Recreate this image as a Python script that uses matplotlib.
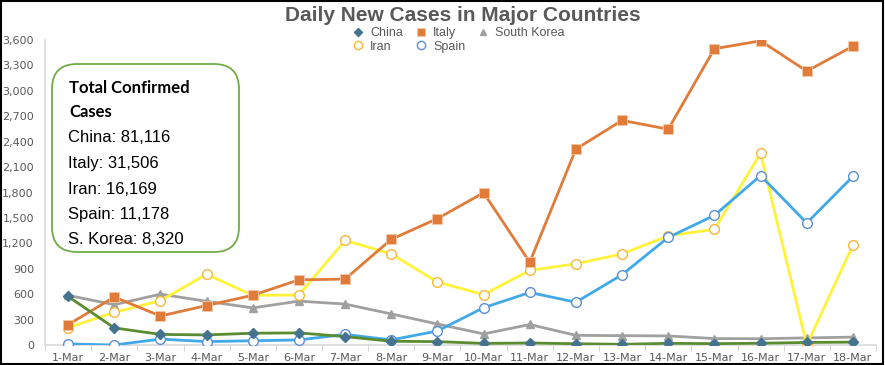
import numpy as np
import matplotlib.pyplot as plt
from matplotlib.patches import FancyBboxPatch
from matplotlib.lines import Line2D

days = ['1-Mar', '2-Mar', '3-Mar', '4-Mar', '5-Mar', '6-Mar', '7-Mar', '8-Mar', '9-Mar',
        '10-Mar', '11-Mar', '12-Mar', '13-Mar', '14-Mar', '15-Mar', '16-Mar', '17-Mar', '18-Mar']

china = [573, 202, 125, 119, 139, 143, 99, 44, 40, 19, 24, 15, 8, 20, 16, 21, 30, 34]
italy = [240, 566, 342, 466, 587, 769, 778, 1247, 1492, 1797, 977, 2313, 2651, 2547, 3497, 3590, 3233, 3526]
korea = [586, 476, 600, 516, 438, 518, 483, 367, 248, 131, 242, 114, 110, 107, 76, 74, 84, 93]
iran = [205, 385, 523, 835, 586, 591, 1234, 1076, 743, 595, 881, 958, 1075, 1289, 1365, 2262, 0, 1178]
spain = [13, 0, 70, 40, 50, 60, 125, 60, 165, 440, 620, 505, 830, 1270, 1530, 2000, 1440, 1990]

totals_title = ['Total Confirmed', 'Cases']
totals = ['China: 81,116', 'Italy: 31,506', 'Iran: 16,169', 'Spain: 11,178', 'S. Korea: 8,320']

fig = plt.figure(figsize=(8.85, 3.65), dpi=100)
ax = fig.add_axes([45/885, 20/365, 831/885, 305/365])
x = np.arange(len(days))

styles = {
    'China': dict(color='#5b8c32', marker='D', ms=5, mfc='#44728f', mec='#44728f', mew=1, z=6),
    'Italy': dict(color='#e07b39', marker='s', ms=7, mfc='#e07b39', mec='#f4c8a8', mew=0.6, z=5),
    'South Korea': dict(color='#a0a0a0', marker='^', ms=6, mfc='#a0a0a0', mec='#a0a0a0', mew=1, z=3),
    'Iran': dict(color='#fff23a', marker='o', ms=7, mfc='white', mec='#f6b73c', mew=1, z=4),
    'Spain': dict(color='#40a9ea', marker='o', ms=7, mfc='white', mec='#5b8fd6', mew=1, z=4),
}
series = {'China': china, 'Italy': italy, 'South Korea': korea, 'Iran': iran, 'Spain': spain}

handles = {}
for name, vals in series.items():
    st = styles[name]
    ax.plot(x, vals, color=st['color'], lw=2, marker=st['marker'], ms=st['ms'],
            mfc=st['mfc'], mec=st['mec'], mew=st['mew'], zorder=st['z'])
    handles[name] = Line2D([], [], ls='none', marker=st['marker'], ms=st['ms'] - 1,
                           mfc=st['mfc'], mec=st['mec'], mew=st['mew'], label=name)

ax.set_xlim(-0.5, len(days) - 0.5)
ax.set_ylim(0, 3600)
ax.set_yticks(np.arange(0, 3601, 300))
ax.set_yticklabels([f'{v:,}' for v in range(0, 3601, 300)])
ax.set_xticks(x)
ax.set_xticklabels(days)
ax.set_xticks(np.arange(-0.5, len(days), 1), minor=True)
ax.tick_params(axis='x', which='major', length=0, pad=6, labelsize=8, labelcolor='#595959')
ax.tick_params(axis='x', which='minor', length=4, color='#d0d0d0')
ax.tick_params(axis='y', length=0, pad=8, labelsize=8, labelcolor='#595959')
for s in ['top', 'right']:
    ax.spines[s].set_visible(False)
for s in ['left', 'bottom']:
    ax.spines[s].set_color('#d9d9d9')
    ax.spines[s].set_linewidth(1.2)
ax.set_facecolor('none')

fig.text(0.523, 0.958, 'Daily New Cases in Major Countries', ha='center', va='center',
         fontsize=15, fontweight='bold', color='#595959', family='Liberation Sans')

order = ['China', 'Iran', 'Italy', 'Spain', 'South Korea']
fig.legend(handles=[handles[n] for n in order], ncol=3,
           loc='upper left', bbox_to_anchor=(0.386, 0.957), frameon=False,
           handlelength=0.8, handletextpad=0.6, columnspacing=1.0,
           labelspacing=0.15, labelcolor='#595959', prop={'family': 'Liberation Sans', 'size': 9})

box = FancyBboxPatch((52/100, (365 - 252)/100), 187/100, 188/100,
                     boxstyle='round,pad=0,rounding_size=0.25', transform=fig.dpi_scale_trans,
                     facecolor='white', edgecolor='#70ad47', lw=1.3, zorder=10)
fig.patches.append(box)
for i, t in enumerate(totals_title):
    fig.text(69/885, 1 - (88 + i * 24)/365, t, ha='left', va='center', fontsize=12,
             fontweight='bold', family='Lato', zorder=11)
for i, t in enumerate(totals):
    fig.text(68/885, 1 - (138 + i * 25.5)/365, t, ha='left', va='center',
             fontsize=12, family='Liberation Sans', zorder=11)

border = plt.Rectangle((0.001, 0.002), 0.997, 0.995, transform=fig.transFigure,
                       fill=False, edgecolor='black', lw=1.5)
fig.patches.append(border)

fig.savefig('out.png', dpi=100)
